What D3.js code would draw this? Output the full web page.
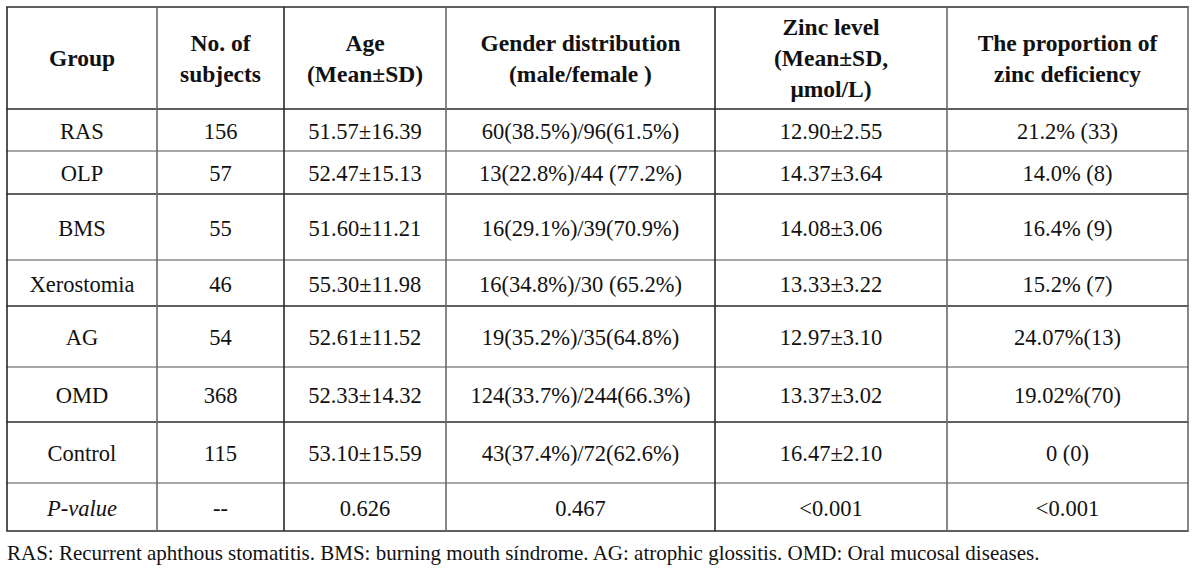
<!DOCTYPE html>
<html>
<head>
<meta charset="utf-8">
<script src="https://cdn.jsdelivr.net/npm/d3@7"></script>
<style>
  html, body { margin: 0; padding: 0; background: #fff; }
  svg { display: block; }
</style>
</head>
<body>
<svg id="chart" width="1200" height="568"></svg>
<script>
// ---- data ----
const headers = [
  ["Group"],
  ["No. of", "subjects"],
  ["Age", "(Mean±SD)"],
  ["Gender distribution", "(male/female )"],
  ["Zinc level", "(Mean±SD,", "μmol/L)"],
  ["The proportion of", "zinc deficiency"]
];
const groups = ["RAS", "OLP", "BMS", "Xerostomia", "AG", "OMD", "Control", "P-value"];
const subjects = ["156", "57", "55", "46", "54", "368", "115", "--"];
const ages = ["51.57±16.39", "52.47±15.13", "51.60±11.21", "55.30±11.98", "52.61±11.52", "52.33±14.32", "53.10±15.59", "0.626"];
const genders = ["60(38.5%)/96(61.5%)", "13(22.8%)/44 (77.2%)", "16(29.1%)/39(70.9%)", "16(34.8%)/30 (65.2%)", "19(35.2%)/35(64.8%)", "124(33.7%)/244(66.3%)", "43(37.4%)/72(62.6%)", "0.467"];
const zinc = ["12.90±2.55", "14.37±3.64", "14.08±3.06", "13.33±3.22", "12.97±3.10", "13.37±3.02", "16.47±2.10", "<0.001"];
const deficiency = ["21.2% (33)", "14.0% (8)", "16.4% (9)", "15.2% (7)", "24.07%(13)", "19.02%(70)", "0 (0)", "<0.001"];
const footnote = "RAS: Recurrent aphthous stomatitis. BMS: burning mouth síndrome. AG: atrophic glossitis. OMD: Oral mucosal diseases.";

// ---- layout ----
const colEdges = [7, 157, 284, 446, 715, 947, 1188];
const rowEdges = [7, 109, 151, 194, 260, 306, 367, 422, 483, 531];
const darkLines = new Set([0, 1, 3, 5, 7, 9]);

const svg = d3.select("#chart");
const font = "'Liberation Serif', 'Times New Roman', serif";

const columns = [groups, subjects, ages, genders, zinc, deficiency];
const colIdx = d3.range(columns.length);
const rowIdx = d3.range(groups.length + 1); // 0 = header

const xL = d3.scaleOrdinal().domain(colIdx).range(colEdges.slice(0, -1));
const xR = d3.scaleOrdinal().domain(colIdx).range(colEdges.slice(1));
const yT = d3.scaleOrdinal().domain(rowIdx).range(rowEdges.slice(0, -1));
const yB = d3.scaleOrdinal().domain(rowIdx).range(rowEdges.slice(1));
const xc = i => (xL(i) + xR(i)) / 2;
const yc = r => (yT(r) + yB(r)) / 2;

// grid lines
svg.append("g").selectAll("line.h").data(rowEdges).join("line")
  .attr("x1", colEdges[0] - 0.8).attr("x2", colEdges[colEdges.length - 1] + 0.8)
  .attr("y1", d => d).attr("y2", d => d)
  .attr("stroke", (d, i) => darkLines.has(i) ? "#2a2a2a" : "#8a8a8a")
  .attr("stroke-width", 1.6);
svg.append("g").selectAll("line.v").data(colEdges).join("line")
  .attr("x1", d => d).attr("x2", d => d)
  .attr("y1", rowEdges[0]).attr("y2", rowEdges[rowEdges.length - 1])
  .attr("stroke", (d, i) => (i === 0 || i === 2 || i === 4) ? "#2a2a2a" : "#6a6a6a")
  .attr("stroke-width", 1.6);

// header
const lineGap = 31;
const hg = svg.append("g");
headers.forEach((lines, i) => {
  const n = lines.length;
  lines.forEach((t, k) => {
    hg.append("text")
      .attr("x", xc(i))
      .attr("y", yc(0) + (k - (n - 1) / 2) * lineGap)
      .attr("text-anchor", "middle")
      .attr("dominant-baseline", "central")
      .attr("font-family", font)
      .attr("font-weight", "bold")
      .attr("font-size", 23.5)
      .attr("fill", "#111")
      .text(t);
  });
});

// body
const bg = svg.append("g");
columns.forEach((col, i) => {
  bg.selectAll(null).data(col).join("text")
    .attr("x", xc(i))
    .attr("y", (d, r) => yc(r + 1) + 1)
    .attr("text-anchor", "middle")
    .attr("dominant-baseline", "central")
    .attr("font-family", font)
    .attr("font-size", 22.5)
    .attr("font-style", (d, r) => (i === 0 && r === groups.length - 1) ? "italic" : "normal")
    .attr("fill", "#111")
    .text(d => d);
});

// footnote
svg.append("text")
  .attr("x", 7).attr("y", 553)
  .attr("dominant-baseline", "central")
  .attr("font-family", font)
  .attr("font-size", 21)
  .attr("fill", "#111")
  .text(footnote);
</script>
</body>
</html>
